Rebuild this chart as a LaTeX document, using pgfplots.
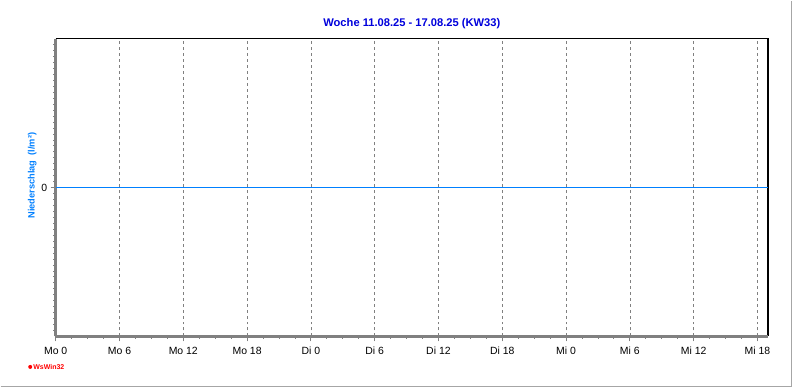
\documentclass[border=0pt]{standalone}
\usepackage{pgfplots}
\pgfplotsset{compat=1.18}
\usepackage{fontspec}
\setmainfont{Liberation Sans}
\definecolor{titleblue}{RGB}{0,0,220}
\definecolor{labblue}{RGB}{0,128,255}
\definecolor{axgray}{RGB}{128,128,128}
\begin{document}
\begin{tikzpicture}[x=1bp,y=1bp]
\path[fill=white] (0,0) rectangle (792,387);
\draw[axgray!70,line width=1.5bp] (0,0.75) -- (791.25,0.75) -- (791.25,387);
\begin{axis}[
  at={(55bp,51bp)}, anchor=south west,
  scale only axis, width=713bp, height=298bp,
  xmin=0, xmax=67, ymin=-1, ymax=1,
  axis line style={draw=none},
  xtick={0,6,...,66},
  xticklabels={Mo 0,Mo 6,Mo 12,Mo 18,Di 0,Di 6,Di 12,Di 18,Mi 0,Mi 6,Mi 12,Mi 18},
  minor x tick num=3,
  ytick={0},
  minor ytick={-0.96,-0.92,...,0.97},
  xtick pos=bottom, ytick pos=left,
  tick align=outside,
  major tick length=5bp, minor tick length=2.5bp,
  every tick/.style={axgray, line width=0.8bp},
  xmajorgrids,
  major grid style={dashed, axgray, line width=0.6bp},
  /pgf/number format/assume math mode=true,
  tick label style={font=\fontsize{10.5}{12}\selectfont, text=black},
  xticklabel style={yshift=-2bp},
  title={\bfseries Woche 11.08.25 - 17.08.25 (KW33)},
  title style={font=\fontsize{11.2}{13}\selectfont, text=titleblue, yshift=0bp},
  clip=false,
]
\draw[black, line width=1.5bp] (axis description cs:0,1) -- (axis description cs:1,1) -- (axis description cs:1,0);
\draw[axgray, line width=2.2bp] (axis description cs:0,0) -- (axis description cs:1,0);
\draw[axgray, line width=2.5bp] (axis description cs:0,0) -- (axis description cs:0,1);
\addplot[color=labblue, line width=1.3bp, mark=none] coordinates {(0.05,0) (66.95,0)};
\end{axis}
\node[rotate=90, text=labblue, font=\fontsize{9.3}{11}\selectfont\bfseries] at (31.5,212) {Niederschlag\ \ (l/m²)};
\fill[red] (29.5,20.5) circle (2);
\node[anchor=west, inner sep=0pt, text=red, font=\fontsize{7}{8}\selectfont\bfseries] at (32.5,20.5) {WsWin32};
\end{tikzpicture}
\end{document}
